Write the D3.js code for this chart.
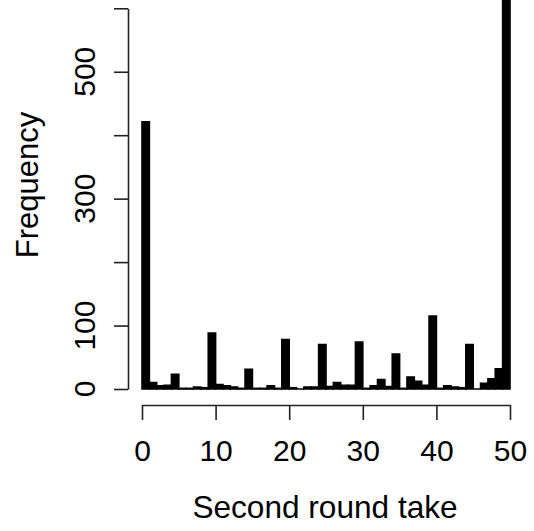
<!DOCTYPE html>
<html>
<head>
<meta charset="utf-8">
<script src="https://cdn.jsdelivr.net/npm/d3@7"></script>
<style>
  html, body { margin: 0; padding: 0; background: #fff; }
  svg { display: block; }
  text { font-family: "Liberation Sans", Arial, Helvetica, sans-serif; fill: #000; }
</style>
</head>
<body>
<svg id="chart" width="534" height="531"></svg>
<script>
// Histogram bins: bin i covers [binStart[i], binStart[i]+1]
const binStart = d3.range(0, 50);
const counts = [421, 10, 5, 6, 23, 1, 1, 3, 2, 88,
                7, 5, 3, 1, 31, 1, 1, 5, 1, 78,
                2, 0, 3, 3, 70, 4, 10, 6, 6, 74,
                1, 5, 15, 4, 55, 1, 19, 12, 6, 115,
                1, 5, 3, 2, 70, 0, 9, 16, 32, 660];
const xTicks = [0, 10, 20, 30, 40, 50];
const yTicks = [0, 100, 200, 300, 400, 500, 600];
const yLabels = [0, 100, 300, 500];
const xTitle = "Second round take";
const yTitle = "Frequency";

const svg = d3.select("#chart");
const x = d3.scaleLinear().domain([0, 50]).range([142, 510]);
const y = d3.scaleLinear().domain([0, 600]).range([389, 8.3]);

// bars (paths so that empty bins still show their outline on the baseline)
svg.append("g").selectAll("path")
  .data(binStart.map((b, i) => ({ b, c: counts[i] })))
  .join("path")
  .attr("d", d => {
    const x0 = x(d.b), x1 = x(d.b + 1), y0 = y(0), y1 = y(d.c);
    return `M${x0},${y0}L${x0},${y1}L${x1},${y1}L${x1},${y0}Z`;
  })
  .attr("fill", "#000")
  .attr("stroke", "#000")
  .attr("stroke-width", 1.6);

// x axis
const xAxis = svg.append("g")
  .attr("transform", "translate(0,405)")
  .call(d3.axisBottom(x).tickValues(xTicks).tickSize(15).tickSizeOuter(0).tickFormat(d3.format("d")));
xAxis.selectAll("path, line").attr("stroke", "#222").attr("stroke-width", 1.6);
xAxis.selectAll("text").attr("font-size", 30).attr("y", 55.5).attr("dy", 0)
  .style("font-family", '"Liberation Sans", Arial, sans-serif').attr("fill", "#000");

// y axis
const yAxis = svg.append("g")
  .attr("transform", "translate(128,0)")
  .call(d3.axisLeft(y).tickValues(yTicks).tickSize(14).tickSizeOuter(0).tickFormat(""));
yAxis.selectAll("path, line").attr("stroke", "#222").attr("stroke-width", 1.6);

svg.append("g").selectAll("text")
  .data(yLabels)
  .join("text")
  .attr("transform", d => `translate(95,${y(d)}) rotate(-90)`)
  .attr("text-anchor", "middle")
  .attr("font-size", 30)
  .text(d => d);

// titles
svg.append("text")
  .attr("x", 325).attr("y", 517.5)
  .attr("text-anchor", "middle")
  .attr("font-size", 31.6)
  .text(xTitle);

svg.append("text")
  .attr("transform", "translate(38,185) rotate(-90)")
  .attr("text-anchor", "middle")
  .attr("font-size", 31)
  .text(yTitle);
</script>
</body>
</html>
